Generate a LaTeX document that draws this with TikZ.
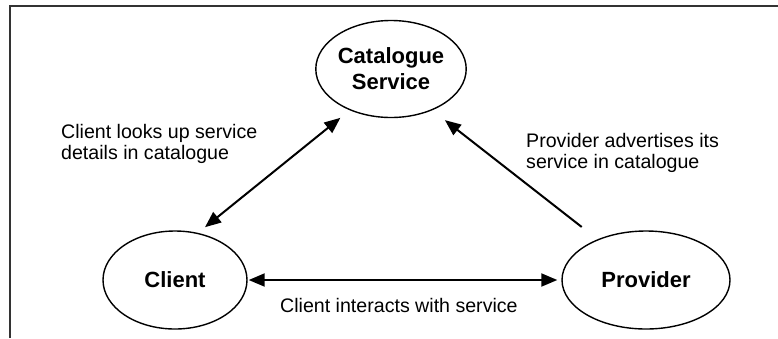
\documentclass[tikz,border=0pt]{standalone}
\usepackage{fontspec}
\setmainfont{Liberation Sans}
\usetikzlibrary{arrows.meta,shapes.geometric}
\begin{document}
\begin{tikzpicture}[x=1pt,y=-1pt,
  entity/.style={draw, ellipse, line width=1.4pt, inner sep=0pt,
    font=\fontsize{22}{26}\selectfont\bfseries, align=center},
  lbl/.style={inner sep=0pt, font=\fontsize{19.6}{21}\selectfont, align=left},
  conn/.style={line width=2pt},
  head/.tip={Triangle[length=16pt,width=13pt]},
  frame/.style={line width=1.8pt, draw=black!80}]
\useasboundingbox (0,0) rectangle (778,338);
\draw[frame] (10,338) -- (10,6) -- (778,6);

\node[entity, minimum width=144pt, minimum height=97pt] (cat) at (391,69) {Catalogue\\Service};
\node[entity, minimum width=144pt, minimum height=98pt] (client) at (175,280) {Client};
\node[entity, minimum width=168pt, minimum height=98pt] (provider) at (646,280) {Provider};

\draw[conn, head-head, shorten <=9pt, shorten >=12pt]
  (client.64) -- (cat.225);
\draw[conn, -head, shorten <=20pt, shorten >=16pt] (provider.140) -- (cat.315);
\draw[conn, head-head, shorten <=1pt, shorten >=4pt]
  (client.east) -- (provider.west);

\node[lbl, anchor=base west] (l1) at (61,159) {Client looks up service\\details in catalogue};
\node[lbl, anchor=base west] (l2) at (526,168) {Provider advertises its\\service in catalogue};
\node[lbl, anchor=base west] (l3) at (280,312) {Client interacts with service};
\end{tikzpicture}
\end{document}
